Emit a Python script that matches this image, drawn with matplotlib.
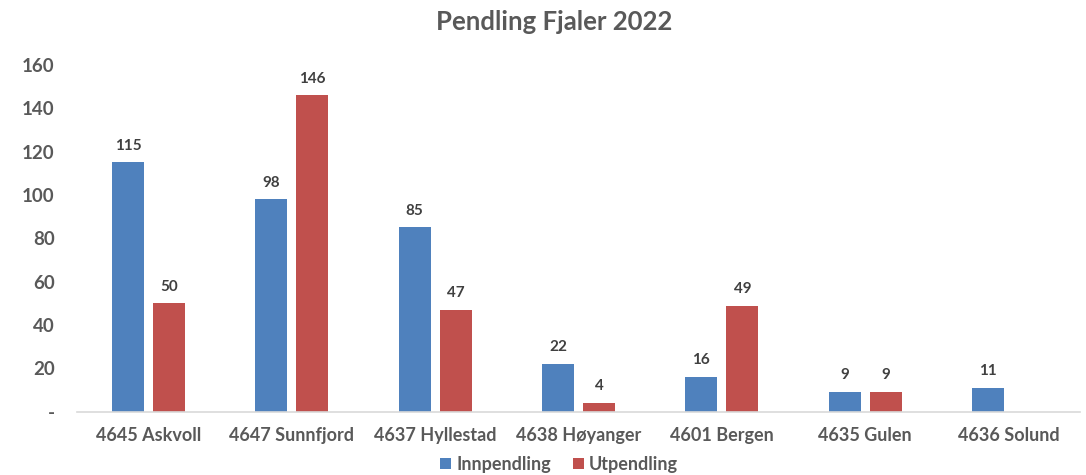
import matplotlib
matplotlib.use("Agg")
import matplotlib.pyplot as plt
import numpy as np
from matplotlib.ticker import FuncFormatter

categories = ["4645 Askvoll", "4647 Sunnfjord", "4637 Hyllestad", "4638 Høyanger",
              "4601 Bergen", "4635 Gulen", "4636 Solund"]
innpendling = [115, 98, 85, 22, 16, 9, 11]
utpendling = [50, 146, 47, 4, 49, 9, None]

blue = "#4F81BD"
red = "#C0504D"
txt = "#595959"

plt.rcParams['font.family'] = ['Lato', 'DejaVu Sans']

fig = plt.figure(figsize=(10.86, 4.75), dpi=100)
ax = fig.add_axes([0.0709, 0.1333, 0.9236, 0.7299])

x = np.arange(len(categories))
w = 0.223
off = 0.143

ax.bar(x - off, innpendling, width=w, color=blue, label="Innpendling")
ux = [xi + off for xi, v in zip(x, utpendling) if v is not None]
uv = [v for v in utpendling if v is not None]
ax.bar(ux, uv, width=w, color=red, label="Utpendling")

for xi, v in zip(x, innpendling):
    ax.text(xi - off, v + 4.5, str(v), ha="center", va="bottom", fontsize=11,
            fontweight="bold", color="#404040")
for xi, v in zip(ux, uv):
    ax.text(xi, v + 4.5, str(v), ha="center", va="bottom", fontsize=11,
            fontweight="bold", color="#404040")

ax.set_xlim(-0.5, len(categories) - 0.5)
ax.set_ylim(0, 160)
ax.set_yticks(range(0, 161, 20))
ax.yaxis.set_major_formatter(FuncFormatter(lambda v, p: "-" if v == 0 else f"{int(v)}"))
ax.set_xticks(x)
ax.set_xticklabels(categories)

for s in ["top", "right", "left"]:
    ax.spines[s].set_visible(False)
ax.spines["bottom"].set_color("#D9D9D9")
ax.spines["bottom"].set_linewidth(1.2)
ax.tick_params(axis="x", length=0, labelsize=13, labelcolor=txt, pad=11)
ax.tick_params(axis="y", length=0, labelsize=13.5, labelcolor=txt, pad=16)
for lab in ax.get_xticklabels() + ax.get_yticklabels():
    lab.set_fontweight("bold")

fig.text(0.51, 0.953, "Pendling Fjaler 2022", ha="center", va="center",
         fontsize=18.5, fontweight="bold", color=txt)

leg = fig.legend(loc="center", bbox_to_anchor=(0.515, 0.022), ncol=2, frameon=False,
                 handlelength=0.6, handleheight=0.6, handletextpad=0.3, columnspacing=1.2,
                 prop={"size": 13, "weight": "bold"})
for t in leg.get_texts():
    t.set_color(txt)

fig.savefig("out.png", dpi=100)
